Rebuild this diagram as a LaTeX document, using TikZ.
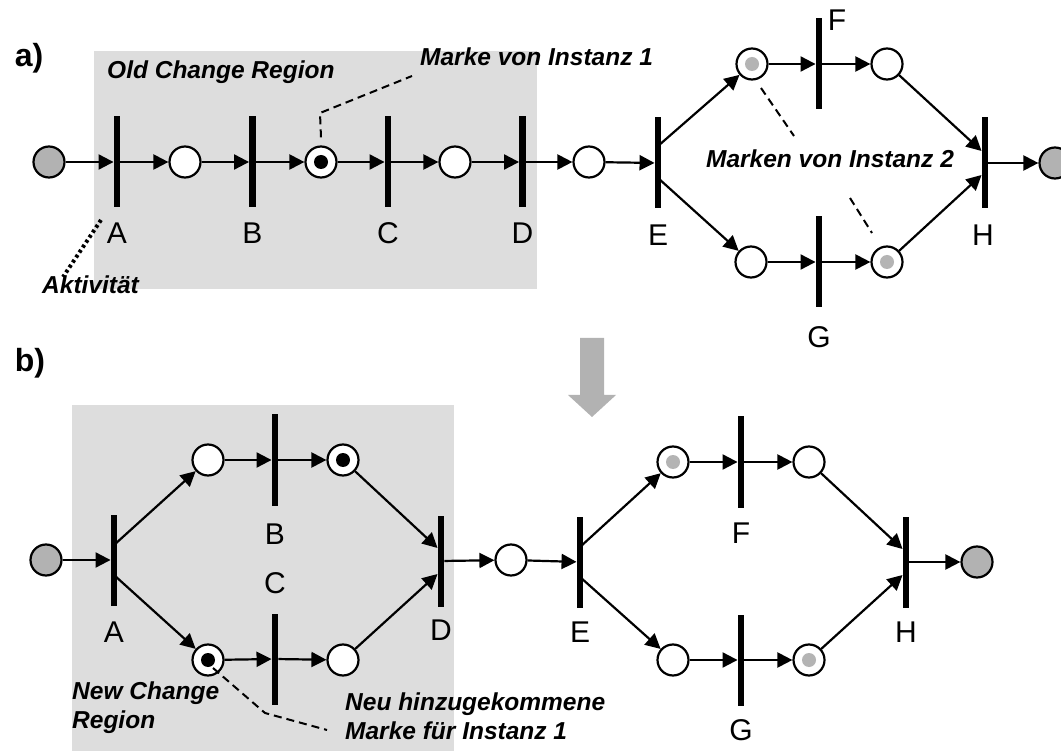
\documentclass[tikz,border=0pt]{standalone}
\usepackage{fontspec}
\setmainfont{Liberation Sans}
\usetikzlibrary{arrows.meta,calc}
\definecolor{regiongray}{HTML}{DDDDDD}
\definecolor{startgray}{HTML}{B2B2B2}
\definecolor{tokengray}{HTML}{B4B4B4}
\tikzset{
  place/.style={circle,draw,line width=2.2pt,fill=white,minimum size=31pt,inner sep=0pt},
  endplace/.style={place,fill=startgray},
  blacktok/.style={place,path picture={\fill[black] (path picture bounding box.center) circle (7pt);}},
  graytok/.style={place,path picture={\fill[tokengray] (path picture bounding box.center) circle (7pt);}},
  trans/.style={rectangle,fill=black,minimum width=6.5pt,minimum height=91pt,inner sep=0pt},
  arc/.style={-{Triangle[length=15pt,width=15pt]},line width=2.2pt},
  lbl/.style={inner sep=0pt,font=\fontsize{30}{34}\selectfont},
  note/.style={inner sep=0pt,font=\fontsize{24.5}{29}\selectfont\bfseries\itshape,align=left},
  annot/.style={line width=2pt,dash pattern=on 8pt off 5pt},
  dots/.style={line width=4pt,dash pattern=on 3pt off 3pt}
}
\begin{document}
\begin{tikzpicture}[x=1pt,y=-1pt]
\useasboundingbox (0,0) rectangle (1061,751);
% regions
\fill[regiongray] (94,51) rectangle (537,289);
\fill[regiongray] (72,405) rectangle (454,751);
% down arrow
\fill[startgray] (580,338) -- (604,338) -- (604,395) -- (616,395) -- (592,417) -- (568,395) -- (580,395) -- cycle;
% headings
\node[lbl,font=\fontsize{32}{36}\selectfont\bfseries] (la) at (29,58) {a)};
\node[lbl,font=\fontsize{32}{36}\selectfont\bfseries] (lb) at (30,363) {b)};
% ---------------- part a
\node[endplace] (pa0) at (49,162) {};
\node[trans] (tA) at (117,162) {};
\node[place] (pa1) at (185,162) {};
\node[trans] (tB) at (252.5,162) {};
\node[blacktok] (pa2) at (321,162) {};
\node[trans] (tC) at (388,162) {};
\node[place] (pa3) at (455,162) {};
\node[trans] (tD) at (522.5,162) {};
\node[place] (pa4) at (589,162) {};
\node[trans] (tE) at (658,163) {};
\node[graytok] (pa5) at (752,64) {};
\node[trans] (tF) at (819,64) {};
\node[place] (pa6) at (887,64) {};
\node[place] (pa8) at (751,262) {};
\node[trans] (tG) at (819,262) {};
\node[graytok] (pa9) at (887,262) {};
\node[trans] (tH) at (985,163) {};
\node[endplace] (pa7) at (1055,163) {};
\draw[arc] (pa0) -- (tA);
\draw[arc] (tA) -- (pa1);
\draw[arc] (pa1) -- (tB);
\draw[arc] (tB) -- (pa2);
\draw[arc] (pa2) -- (tC);
\draw[arc] (tC) -- (pa3);
\draw[arc] (pa3) -- (tD);
\draw[arc] (tD) -- (pa4);
\draw[arc] (pa4) -- (tE);
\draw[arc] ($(tE.center)+(0,-17)$) -- (pa5);
\draw[arc] ($(tE.center)+(0,15)$) -- (pa8);
\draw[arc] (pa5) -- (tF);
\draw[arc] (tF) -- (pa6);
\draw[arc] (pa8) -- (tG);
\draw[arc] (tG) -- (pa9);
\draw[arc] (pa6) -- ($(tH.west)+(0,-12)$);
\draw[arc] (pa9) -- ($(tH.west)+(0,12)$);
\draw[arc] (tH) -- (pa7);
\node[lbl] (lA) at (117,233) {A};
\node[lbl] (lB) at (252.5,233) {B};
\node[lbl] (lC) at (388,233) {C};
\node[lbl] (lD) at (522.5,233) {D};
\node[lbl] (lE) at (658,235) {E};
\node[lbl] (lF) at (837,20) {F};
\node[lbl] (lG) at (819,337) {G};
\node[lbl] (lH) at (983,235) {H};
\node[note,anchor=west] (nOld) at (107,72) {Old Change Region};
\node[note,anchor=west] (nM1) at (420,57) {Marke von Instanz 1};
\node[note] (nM2) at (830,159) {Marken von Instanz 2};
\node[note,anchor=west] (nAkt) at (42,285) {Aktivität};
\coordinate (m1a) at (320,113);
\coordinate (m1b) at (412,76);
\draw[annot] ($(pa2.north)+(0,-8)$) -- (m1a) -- (m1b);
\coordinate (akA) at (101,220);
\coordinate (akB) at (63,277);
\draw[dots] (akA) -- (akB);
\coordinate (m2a) at (761,88);
\coordinate (m2b) at (794,136);
\coordinate (m2c) at (850,198);
\coordinate (m2d) at (872,233);
\draw[annot] (m2a) -- (m2b);
\draw[annot] (m2c) -- (m2d);
% ---------------- part b
\node[endplace] (pb0) at (46,560) {};
\node[trans] (tA2) at (114,560) {};
\node[place] (pb1) at (208,460) {};
\node[trans] (tB2) at (275,460) {};
\node[blacktok] (pb2) at (343,460) {};
\node[blacktok] (pb3) at (208,660) {};
\node[trans] (tC2) at (275,659) {};
\node[place] (pb4) at (343,660) {};
\node[trans] (tD2) at (441,561) {};
\node[place] (pb5) at (511,560) {};
\node[trans] (tE2) at (580,562) {};
\node[graytok] (pb6) at (673,462) {};
\node[trans] (tF2) at (741,462) {};
\node[place] (pb7) at (809,462) {};
\node[place] (pb8) at (673,660) {};
\node[trans] (tG2) at (741,660) {};
\node[graytok] (pb9) at (809,660) {};
\node[trans] (tH2) at (906,562) {};
\node[endplace] (pb10) at (977,562) {};
\draw[arc] (pb0) -- (tA2);
\draw[arc] ($(tA2.center)+(0,-15)$) -- (pb1);
\draw[arc] ($(tA2.center)+(0,15)$) -- (pb3);
\draw[arc] (pb1) -- (tB2);
\draw[arc] (tB2) -- (pb2);
\draw[arc] (pb3) -- (tC2);
\draw[arc] (tC2) -- (pb4);
\draw[arc] (pb2) -- ($(tD2.west)+(0,-13)$);
\draw[arc] (pb4) -- ($(tD2.west)+(0,13)$);
\draw[arc] (tD2) -- (pb5);
\draw[arc] (pb5) -- (tE2);
\draw[arc] ($(tE2.center)+(0,-15)$) -- (pb6);
\draw[arc] ($(tE2.center)+(0,15)$) -- (pb8);
\draw[arc] (pb6) -- (tF2);
\draw[arc] (tF2) -- (pb7);
\draw[arc] (pb8) -- (tG2);
\draw[arc] (tG2) -- (pb9);
\draw[arc] (pb7) -- ($(tH2.west)+(0,-13)$);
\draw[arc] (pb9) -- ($(tH2.west)+(0,13)$);
\draw[arc] (tH2) -- (pb10);
\node[lbl] (lA2) at (114,632) {A};
\node[lbl] (lB2) at (275,534) {B};
\node[lbl] (lC2) at (275,583) {C};
\node[lbl] (lD2) at (441,630) {D};
\node[lbl] (lE2) at (580,632) {E};
\node[lbl] (lF2) at (741,533) {F};
\node[lbl] (lG2) at (741,730) {G};
\node[lbl] (lH2) at (906,632) {H};
\node[note,anchor=west] (nNew) at (72,708) {New Change\\Region};
\node[note,anchor=west] (nNeu) at (345,716) {Neu hinzugekommene\\Marke für Instanz 1};
\coordinate (nb1) at (265,713);
\coordinate (nb2) at (327,730);
\draw[annot] ($(pb3.center)+(5,8)$) -- (nb1) -- (nb2);
\end{tikzpicture}
\end{document}
